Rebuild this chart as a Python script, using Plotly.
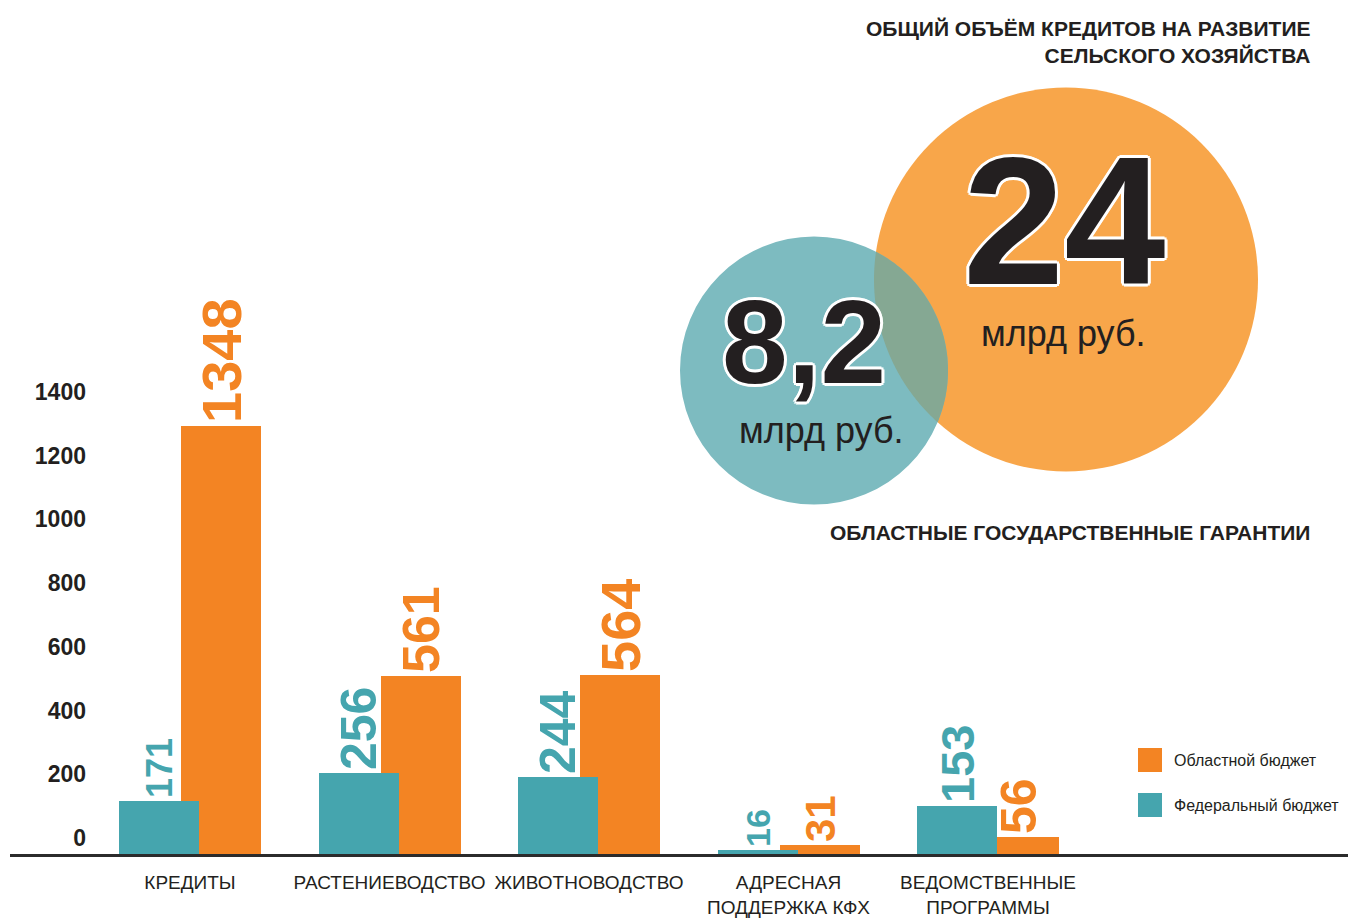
import numpy as np
import plotly.graph_objects as go

# ---------------- data ----------------
categories = ["КРЕДИТЫ", "РАСТЕНИЕВОДСТВО", "ЖИВОТНОВОДСТВО",
              "АДРЕСНАЯ<br>ПОДДЕРЖКА КФХ", "ВЕДОМСТВЕННЫЕ<br>ПРОГРАММЫ"]
federal = [171, 256, 244, 16, 153]        # Федеральный бюджет
regional = [1348, 561, 564, 31, 56]       # Областной бюджет
y_ticks = [0, 200, 400, 600, 800, 1000, 1200, 1400]
series_names = ["Областной бюджет", "Федеральный бюджет"]
total_credits = "24"
total_guarantees = "8,2"
unit = "млрд руб."
title_credits = "ОБЩИЙ ОБЪЁМ КРЕДИТОВ НА РАЗВИТИЕ<br>СЕЛЬСКОГО ХОЗЯЙСТВА"
title_guarantees = "ОБЛАСТНЫЕ ГОСУДАРСТВЕННЫЕ ГАРАНТИИ"

# ---------------- styles ----------------
TEAL = "#45a5ae"
ORANGE = "#f38423"
TEAL_C = "#7dbbc0"
ORANGE_C = "#f8a64a"
LENS_C = "#85a893"
INK = "#231f20"
FONT = "Liberation Sans, Arial, sans-serif"
fed_label_sizes = [36, 50, 50, 34, 47]
reg_label_sizes = [56, 52, 56, 42, 50]

W, H = 1348, 924
ML, MR, MT, MB = 95, 0, 27, 69
PW, PH = W - ML - MR, H - MT - MB
spacing = 199.5          # px per category
bar_w = 80 / spacing

def px_x(px):
    return (px - ML) / PW

def px_y(py):
    return (H - MB - py) / PH

fig = go.Figure()
fig.add_trace(go.Bar(
    x=categories, y=regional, name=series_names[0],
    marker=dict(color=ORANGE, line=dict(width=0)),
    width=bar_w, offset=(31 - 40) / spacing,
    text=[str(v) for v in regional], textposition="outside", textangle=-90,
    textfont=dict(family=FONT, size=reg_label_sizes, color=ORANGE, weight="bold"),
    cliponaxis=False, constraintext="none", showlegend=False,
))
fig.add_trace(go.Bar(
    x=categories, y=federal, name=series_names[1],
    marker=dict(color=TEAL, line=dict(width=0)),
    width=bar_w, offset=(-31 - 40) / spacing,
    text=[str(v) for v in federal], textposition="outside", textangle=-90,
    textfont=dict(family=FONT, size=fed_label_sizes, color=TEAL, weight="bold"),
    cliponaxis=False, constraintext="none", showlegend=False,
))

x0 = -(190 - ML) / spacing
fig.update_xaxes(
    range=[x0, x0 + PW / spacing], showgrid=False, zeroline=False, showline=False,
    ticks="", tickangle=0, automargin=False,
    tickfont=dict(family=FONT, size=19, color=INK), ticklabelstandoff=14,
)
y_top = PH / 0.3186
fig.update_yaxes(
    range=[0, y_top], tickvals=y_ticks, ticktext=[str(v) for v in y_ticks],
    showgrid=False, zeroline=False, showline=False, ticks="", automargin=False,
    tickfont=dict(family=FONT, size=23, color=INK, weight="bold"),
    ticklabelstandoff=8, ticklabelshift=-17,
)

shapes = []
# baseline
shapes.append(dict(type="line", xref="paper", yref="paper",
                   x0=px_x(10), x1=px_x(1348), y0=px_y(855.5), y1=px_y(855.5),
                   line=dict(color="#2b2b2b", width=3), layer="above"))

# circles
c1, r1 = np.array([814.0, 370.5]), 134.0
c2, r2 = np.array([1066.0, 279.5]), 192.0
for c, r, col in [(c2, r2, ORANGE_C), (c1, r1, TEAL_C)]:
    shapes.append(dict(type="circle", xref="paper", yref="paper",
                       x0=px_x(c[0] - r), x1=px_x(c[0] + r),
                       y0=px_y(c[1] + r), y1=px_y(c[1] - r),
                       fillcolor=col, line=dict(width=0), layer="below"))
# lens (overlap) path
d = np.linalg.norm(c2 - c1)
a = (r1**2 - r2**2 + d**2) / (2 * d)
ang_u = np.arctan2(c2[1] - c1[1], c2[0] - c1[0])
al1 = np.arccos(a / r1)
al2 = np.arccos((d - a) / r2)
t1 = np.linspace(ang_u - al1, ang_u + al1, 80)
t2 = np.linspace(ang_u + np.pi - al2, ang_u + np.pi + al2, 80)
pts = [(c1[0] + r1 * np.cos(t), c1[1] + r1 * np.sin(t)) for t in t1]
pts += [(c2[0] + r2 * np.cos(t), c2[1] + r2 * np.sin(t)) for t in t2]
path = "M " + " L ".join(f"{px_x(px):.5f},{px_y(py):.5f}" for px, py in pts) + " Z"
shapes.append(dict(type="path", xref="paper", yref="paper", path=path,
                   fillcolor=LENS_C, line=dict(width=0), layer="below"))

# legend squares
leg_cols = [ORANGE, TEAL]
leg_y = [760, 805]
annotations = []
for nm, col, yy in zip(series_names, leg_cols, leg_y):
    shapes.append(dict(type="rect", xref="paper", yref="paper",
                       x0=px_x(1138), x1=px_x(1162), y0=px_y(yy + 12), y1=px_y(yy - 12),
                       fillcolor=col, line=dict(width=0)))
    annotations.append(dict(xref="paper", yref="paper", x=px_x(1172), y=px_y(yy),
                            text=nm, showarrow=False, xanchor="left", yanchor="middle",
                            font=dict(family=FONT, size=16, color=INK)))

outline = ("3px 0 0 #fff, -3px 0 0 #fff, 0 3px 0 #fff, 0 -3px 0 #fff, "
           "2px 2px 0 #fff, -2px -2px 0 #fff, 2px -2px 0 #fff, -2px 2px 0 #fff")

annotations += [
    dict(xref="paper", yref="paper", x=px_x(1312), y=px_y(42), text=title_credits,
         showarrow=False, xanchor="right", yanchor="middle", align="right",
         font=dict(family=FONT, size=21, color=INK, weight="bold")),
    dict(xref="paper", yref="paper", x=px_x(1312), y=px_y(532), text=title_guarantees,
         showarrow=False, xanchor="right", yanchor="middle", align="right",
         font=dict(family=FONT, size=21, color=INK, weight="bold")),
    dict(xref="paper", yref="paper", x=px_x(1064), y=px_y(221), text=total_credits,
         showarrow=False, xanchor="center", yanchor="middle",
         font=dict(family=FONT, size=182, color=INK, weight="bold", shadow=outline)),
    dict(xref="paper", yref="paper", x=px_x(1063), y=px_y(333), text=unit,
         showarrow=False, xanchor="center", yanchor="middle",
         font=dict(family=FONT, size=36, color=INK)),
    dict(xref="paper", yref="paper", x=px_x(804), y=px_y(342), text=total_guarantees,
         showarrow=False, xanchor="center", yanchor="middle",
         font=dict(family=FONT, size=118, color=INK, weight="bold", shadow=outline)),
    dict(xref="paper", yref="paper", x=px_x(821), y=px_y(430), text=unit,
         showarrow=False, xanchor="center", yanchor="middle",
         font=dict(family=FONT, size=36, color=INK)),
]

fig.update_layout(
    width=W, height=H, autosize=False,
    margin=dict(l=ML, r=MR, t=MT, b=MB, pad=0, autoexpand=False),
    paper_bgcolor="white", plot_bgcolor="rgba(0,0,0,0)",
    barmode="overlay", bargap=0,
    shapes=shapes, annotations=annotations,
    font=dict(family=FONT, color=INK),
    showlegend=False,
)

fig.write_html("out.html", config={"displayModeBar": False},
               post_script="document.body.style.margin='0';document.body.style.overflow='hidden';")
